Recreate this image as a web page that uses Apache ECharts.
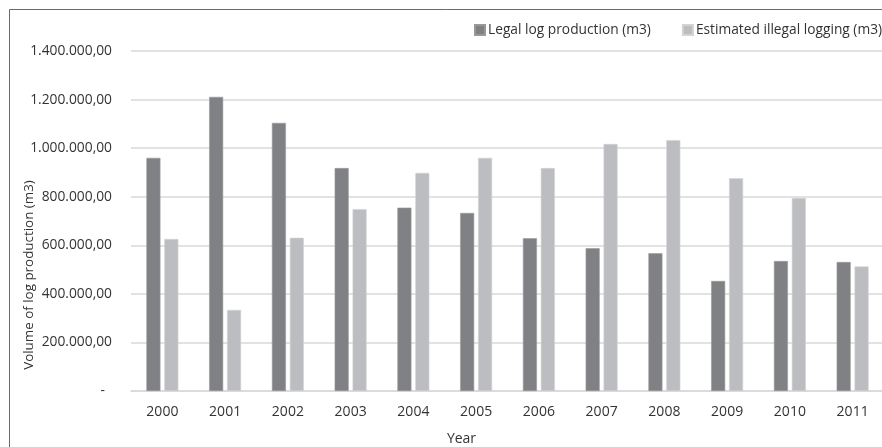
<!DOCTYPE html>
<html>
<head>
<meta charset="utf-8">
<script src="https://cdn.jsdelivr.net/npm/echarts@6/dist/echarts.min.js"></script>
<style>
html,body{margin:0;padding:0;background:#fff;}
#chart{width:882px;height:447px;}
</style>
</head>
<body>
<div id="chart"></div>
<script>
const years = ['2000','2001','2002','2003','2004','2005','2006','2007','2008','2009','2010','2011'];
const legalLog = [960000, 1211000, 1104000, 918000, 755000, 733000, 629000, 588000, 567000, 453000, 535000, 531000];
const illegalLog = [626000, 334000, 631000, 749000, 898000, 960000, 918000, 1017000, 1033000, 876000, 795000, 513000];
const seriesNames = ['Legal log production (m3)', 'Estimated illegal logging (m3)'];
const yTitle = 'Volume of log production (m3)';
const xTitle = 'Year';

function fmt(v) {
  if (v === 0) return '-  ';
  const s = Math.round(v).toString();
  const withDots = s.replace(/\B(?=(\d{3})+(?!\d))/g, '.');
  return withDots + ',00';
}

const FONT = '"Open Sans", "Liberation Sans", sans-serif';
const TXT = '#333333';

const chart = echarts.init(document.getElementById('chart'), null, {renderer: 'canvas'});
chart.setOption({
  animation: false,
  backgroundColor: '#fff',
  textStyle: {fontFamily: FONT, color: TXT},
  legend: {
    data: seriesNames,
    left: 469,
    top: 18,
    width: 600,
    itemWidth: 10,
    itemHeight: 10,
    itemGap: 31,
    icon: 'rect',
    textStyle: {fontFamily: FONT, fontSize: 13.75, color: TXT, padding: [0, 0, 0, -2]}
  },
  grid: [
    {left: 131, right: -2, top: 51, bottom: 56, containLabel: false, outerBoundsMode: 'none'},
    {left: 131, right: -2, top: 163, bottom: 60, containLabel: false, outerBoundsMode: 'none', show: false}
  ],
  xAxis: [
    {
      type: 'category',
      data: years,
      name: xTitle,
      nameLocation: 'middle',
      nameGap: 41,
      nameMoveOverlap: false,
      nameTextStyle: {fontFamily: FONT, fontSize: 14, color: TXT, padding: [0, 92, 0, 0]},
      axisLine: {lineStyle: {color: '#d9d9d9', width: 1.5}},
      axisTick: {show: false},
      axisLabel: {fontFamily: FONT, fontSize: 14, color: TXT, margin: 14}
    },
    {
      type: 'category',
      gridIndex: 1,
      data: years,
      show: false
    }
  ],
  yAxis: [
    {
      type: 'value',
      min: 0,
      max: 1400000,
      interval: 200000,
      axisLine: {show: false},
      axisTick: {show: false},
      splitLine: {lineStyle: {color: '#d9d9d9', width: 1.5}},
      axisLabel: {fontFamily: FONT, fontSize: 13.8, color: TXT, margin: 19, formatter: fmt}
    },
    {
      type: 'value',
      gridIndex: 1,
      min: 0,
      max: 1,
      name: yTitle,
      nameLocation: 'middle',
      nameRotate: 90,
      nameGap: 95,
      nameMoveOverlap: false,
      nameTextStyle: {fontFamily: FONT, fontSize: 13.4, color: TXT},
      axisLine: {show: false},
      axisTick: {show: false},
      axisLabel: {show: false},
      splitLine: {show: false}
    }
  ],
  series: [
    {
      name: seriesNames[0],
      type: 'bar',
      data: legalLog,
      barWidth: 14,
      barGap: '28%',
      itemStyle: {color: '#808184', borderColor: '#98999b', borderWidth: 0.6}
    },
    {
      name: seriesNames[1],
      type: 'bar',
      data: illegalLog,
      barWidth: 14,
      itemStyle: {color: '#bcbdc0', borderColor: '#d2d3d5', borderWidth: 0.6}
    }
  ],
  graphic: [
    {
      type: 'rect',
      shape: {x: 9.5, y: 9.5, width: 1000, height: 1000},
      style: {fill: null, stroke: '#6a6a6a', lineWidth: 1},
      silent: true
    }
  ]
});
</script>
</body>
</html>
